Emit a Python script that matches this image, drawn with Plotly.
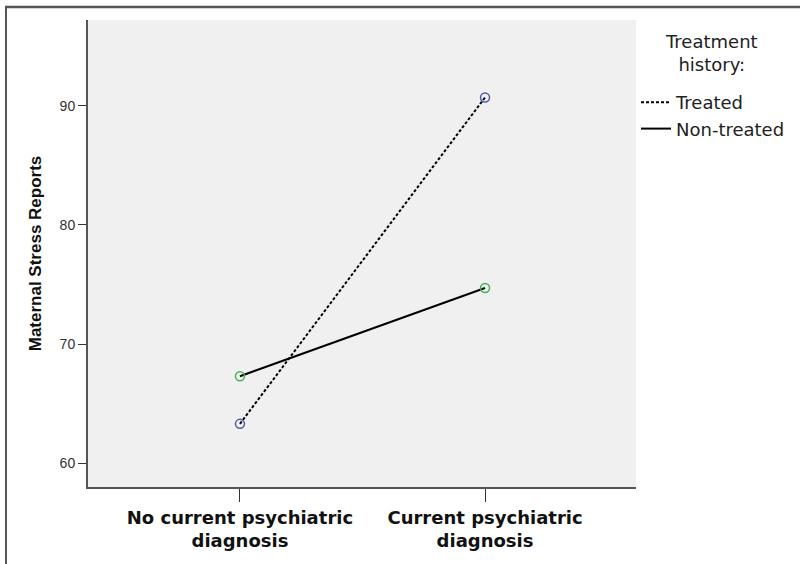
import plotly.graph_objects as go

categories = ["<b>No current psychiatric</b><br><b>diagnosis</b>", "<b>Current psychiatric</b><br><b>diagnosis</b>"]
cat_pos = [0, 1]
treated = [63.3, 90.7]
non_treated = [67.3, 74.7]
y_ticks = [60, 70, 80, 90]

W, H = 800, 564
L, R, T, B = 88, 164, 20, 77
pw, ph = W - L - R, H - T - B

def px(x):
    return (x - L) / pw

def py(y):
    return (H - B - y) / ph

WIDE = "DejaVu Sans, Verdana, sans-serif"
DASH = "3px,2px"
fig = go.Figure()
fig.add_trace(go.Scatter(
    x=cat_pos, y=treated, name="Treated", mode="lines+markers", showlegend=False,
    line=dict(color="black", width=2, dash=DASH),
    marker=dict(symbol="circle-open", size=9, color="#4f5bb0", line=dict(width=1.5)),
))
fig.add_trace(go.Scatter(
    x=cat_pos, y=non_treated, name="Non-treated", mode="lines+markers", showlegend=False,
    line=dict(color="black", width=2),
    marker=dict(symbol="circle-open", size=9, color="#3fb54f", line=dict(width=1.5)),
))
# legend-only entries (line samples without markers)
fig.add_trace(go.Scatter(x=[None], y=[None], name="Treated", mode="lines",
                         line=dict(color="black", width=2, dash=DASH)))
fig.add_trace(go.Scatter(x=[None], y=[None], name="Non-treated", mode="lines",
                         line=dict(color="black", width=2)))

fig.update_layout(
    width=W, height=H,
    margin=dict(l=L, r=R, t=T, b=B, autoexpand=False),
    paper_bgcolor="white",
    plot_bgcolor="#f0f0f0",
    font=dict(family="Liberation Sans, Arial, sans-serif", color="#222"),
    showlegend=True,
    legend=dict(x=1.0, xanchor="left", y=py(84), yanchor="top",
                font=dict(size=18, color="#222", family=WIDE), itemwidth=30,
                tracegroupgap=0, bgcolor="rgba(0,0,0,0)"),
    xaxis=dict(range=[-0.62, 1.616], tickvals=cat_pos, ticktext=categories,
               showgrid=False, zeroline=False, showline=True, linecolor="#555",
               linewidth=2, ticks="outside", ticklen=13, tickcolor="#333",
               tickfont=dict(size=18, color="#111", family=WIDE),
               fixedrange=True),
    yaxis=dict(range=[58, 97.2], tickvals=y_ticks, showgrid=False, zeroline=False,
               showline=True, linecolor="#555", linewidth=2, ticks="outside",
               ticklen=8, tickcolor="#333", tickfont=dict(size=14, color="#333"),
               title=dict(text="<b>Maternal Stress Reports</b>", font=dict(size=17, color="#111"),
                          standoff=14)),
    annotations=[dict(text="Treatment<br>history:", x=px(711), y=py(29), xref="paper", yref="paper",
                      xanchor="center", yanchor="top", showarrow=False,
                      font=dict(size=18, color="#222", family=WIDE))],
    shapes=[
        dict(type="line", xref="paper", yref="paper", x0=px(5), x1=px(800), y0=py(7), y1=py(7),
             line=dict(color="#555", width=2.5), layer="above"),
        dict(type="line", xref="paper", yref="paper", x0=px(6), x1=px(6), y0=py(6), y1=py(564),
             line=dict(color="#555", width=2), layer="above"),
    ],
)

fig.write_html("out.html", config={"displayModeBar": False},
               post_script="document.body.style.margin='0';")
